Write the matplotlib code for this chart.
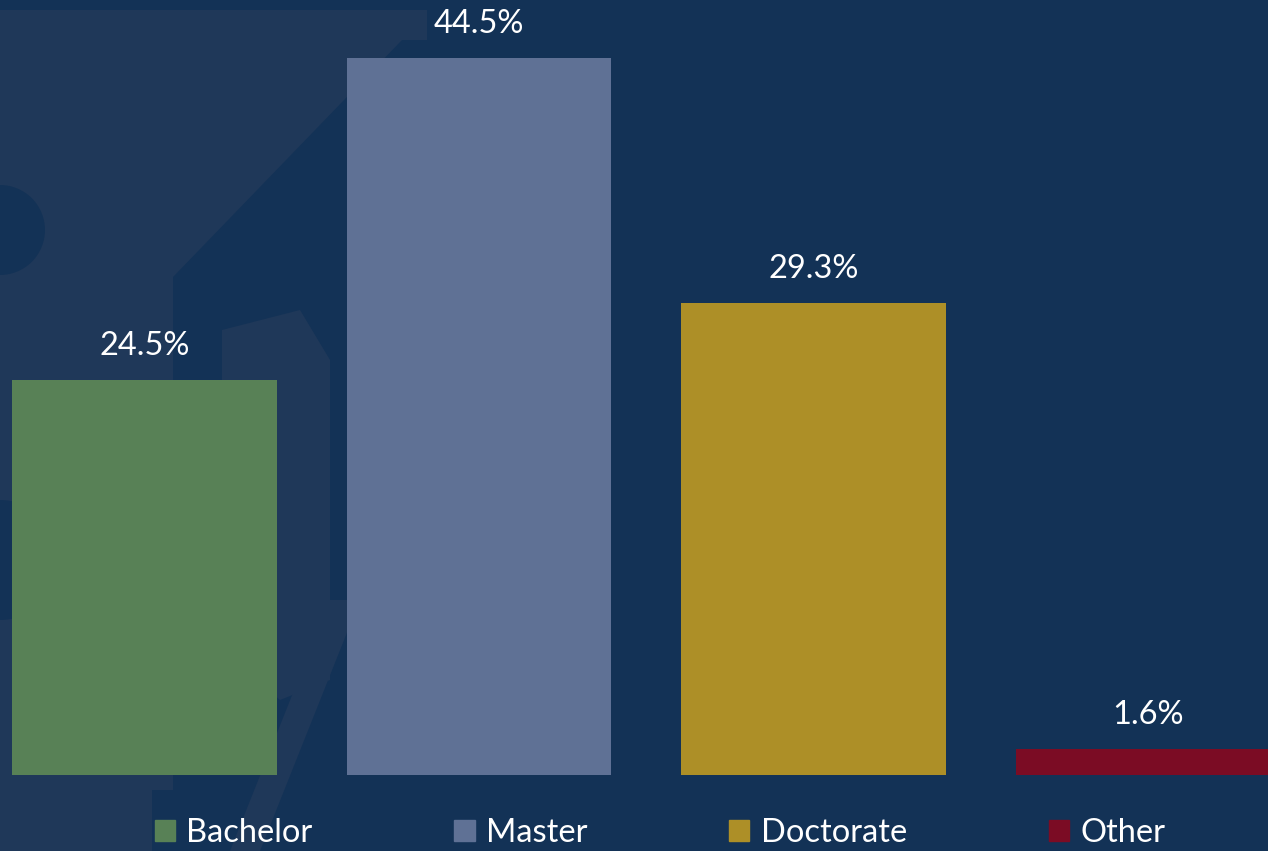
import matplotlib.pyplot as plt
import matplotlib.patches as mpatches
from matplotlib.patches import Polygon, Ellipse

categories = ['Bachelor', 'Master', 'Doctorate', 'Other']
values     = [24.5, 44.5, 29.3, 1.6]
bar_colors = ['#588156', '#5f7195', '#ad8f27', '#7b0c24']

bg_color   = '#133256'
wm_color   = '#1f3859'

plt.rcParams['font.family'] = ['Lato', 'DejaVu Sans']

fig = plt.figure(figsize=(12.68, 8.51), dpi=100)
fig.patch.set_facecolor(bg_color)

# faint watermark behind the chart (figure pixel coords, origin top-left)
W, H = 1268, 851
def px(x, y):
    return (x / W, 1 - y / H)

wm = fig.add_axes([0, 0, 1, 1], zorder=0)
wm.set_xlim(0, 1)
wm.set_ylim(0, 1)
wm.axis('off')
roof = [px(0, 10), px(427, 10), px(427, 40), px(402, 40), px(173, 277),
        px(173, 790), px(0, 790)]
wm.add_patch(Polygon(roof, closed=True, color=wm_color, lw=0))
wm.add_patch(Polygon([px(230, 851), px(330, 600), px(360, 600), px(260, 851)],
                     closed=True, color=wm_color, lw=0))
wm.add_patch(Polygon([px(0, 790), px(152, 790), px(152, 851), px(0, 851)],
                     closed=True, color=wm_color, lw=0))
wm.add_patch(Polygon([px(222, 330), px(300, 310), px(330, 360), px(330, 680),
                      px(280, 700), px(222, 650)], closed=True, color=wm_color, lw=0))
for (cx, cy, r) in [(0, 230, 45), (0, 560, 60)]:
    wm.add_patch(Ellipse(px(cx, cy), 2 * r / W, 2 * r / H, color=bg_color, lw=0))

ax = fig.add_axes([0, 1 - 775 / H, 1, 775 / H], zorder=1)
ax.patch.set_alpha(0)

x = range(len(categories))
bars = ax.bar(x, values, width=0.79, color=bar_colors, zorder=2)

for b, v in zip(bars, values):
    ax.text(b.get_x() + b.get_width() / 2, v + 1.2, f'{v}%',
            ha='center', va='bottom', color='white', fontsize=23.5)

ax.set_xlim(-0.432, 3.359)
ax.set_ylim(0, 48.1)
ax.axis('off')

handles = [mpatches.Patch(color=c, label=l) for c, l in zip(bar_colors, categories)]
leg = fig.legend(handles=handles, loc='center', bbox_to_anchor=(0.5205, 1 - 833 / H),
                 ncol=4, frameon=False, fontsize=23.5, handlelength=0.62,
                 handleheight=0.62, handletextpad=0.34, columnspacing=4.35,
                 borderpad=0)
for t in leg.get_texts():
    t.set_color('white')

fig.savefig('out.png', dpi=100, facecolor=bg_color)
